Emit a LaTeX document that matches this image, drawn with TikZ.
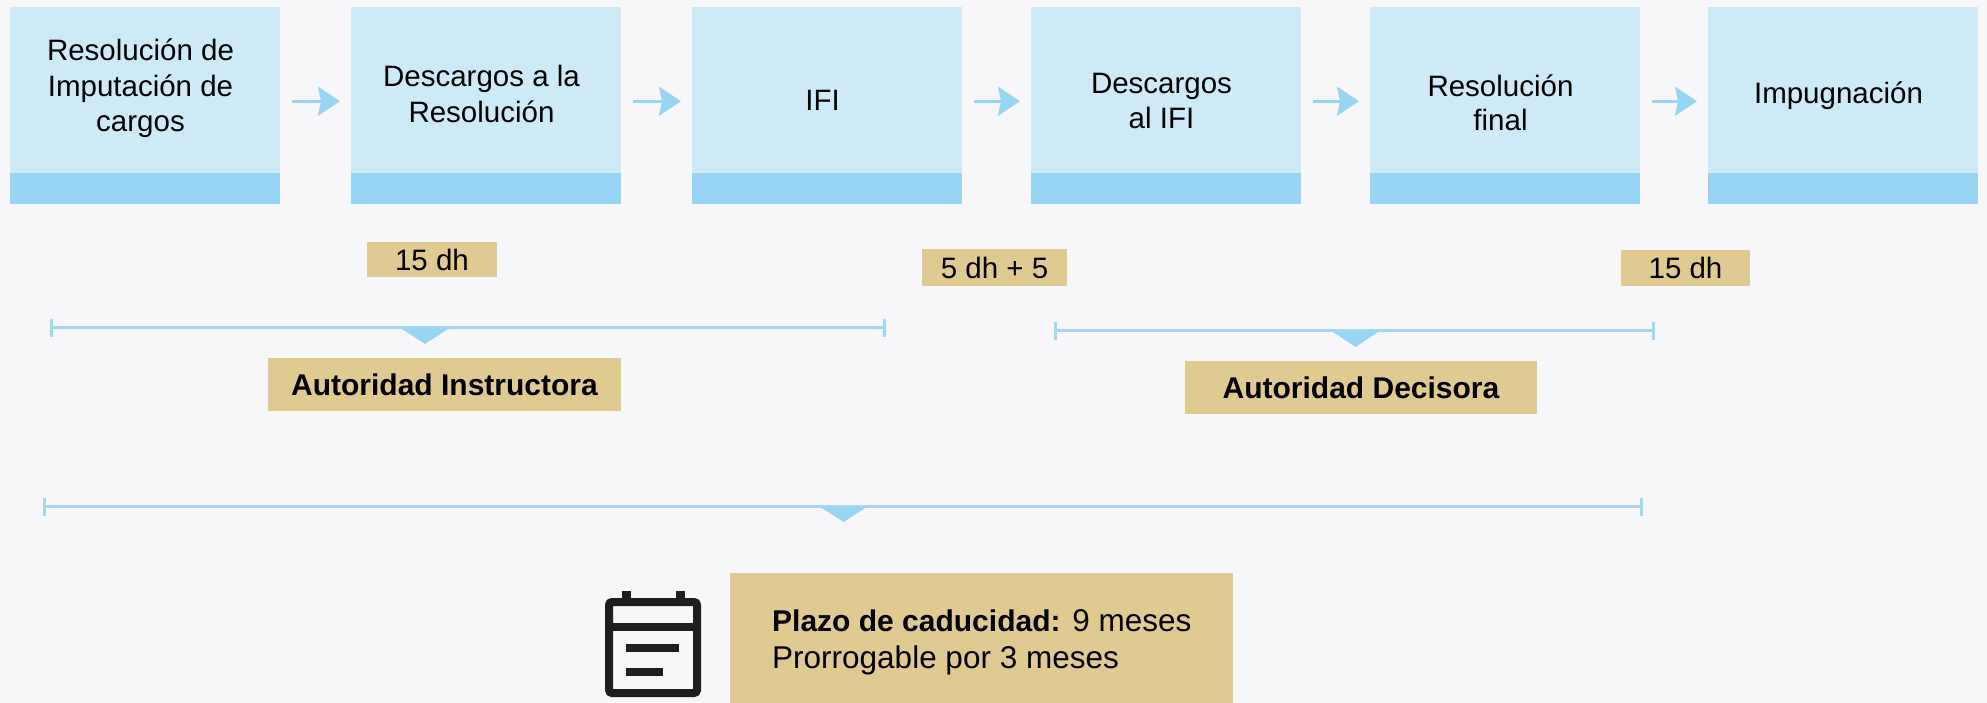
\documentclass[tikz,border=0pt]{standalone}
\usepackage{fontspec}
\setmainfont{Liberation Sans}
\usetikzlibrary{arrows.meta}
\definecolor{bg}{HTML}{F7F7F9}
\definecolor{boxlight}{HTML}{CDEAF6}
\definecolor{boxstrip}{HTML}{98D5F4}
\definecolor{tanfill}{HTML}{DFCA91}
\definecolor{lineblue}{HTML}{A2D8F4}
\definecolor{iconcol}{HTML}{1E1E1E}
\begin{document}
\begin{tikzpicture}[x=1pt,y=-1pt,
  stepbox/.style={fill=boxlight, draw=none, inner sep=0pt, minimum width=270pt, minimum height=197pt, anchor=north west},
  boxtxt/.style={anchor=base, inner sep=0pt, font=\fontsize{29.5}{35.5}\selectfont},
  flowarrow/.style={draw=boxstrip, line width=3pt, -{Stealth[length=22pt,width=29pt,inset=3pt]}},
  durbox/.style={fill=tanfill, draw=none, inner sep=0pt, font=\fontsize{29.5}{35}\selectfont},
  authbox/.style={fill=tanfill, draw=none, inner sep=0pt, minimum width=353pt, minimum height=53pt, font=\fontsize{30}{36}\selectfont\bfseries},
  bracket/.style={draw=lineblue, line width=3pt},
  pointer/.style={fill=boxstrip, draw=none},
  cadtxt/.style={anchor=base west, inner sep=0pt, font=\fontsize{31.5}{37}\selectfont},
  iconline/.style={draw=iconcol, line width=8pt},
  iconfill/.style={fill=iconcol, draw=none}
]
\fill[bg] (0,0) rectangle (1987,703);
\useasboundingbox (0,0) rectangle (1987,703);

% --- step boxes
\node[stepbox] (b1) at (10,7) {};
\node[stepbox] (b2) at (351,7) {};
\node[stepbox] (b3) at (692,7) {};
\node[stepbox] (b4) at (1031,7) {};
\node[stepbox] (b5) at (1370,7) {};
\node[stepbox] (b6) at (1708,7) {};
\foreach \b in {b1,b2,b3,b4,b5,b6}{
  \fill[boxstrip] ([yshift=31pt]\b.south west) rectangle (\b.south east);
}

% --- step texts
\node[boxtxt] (t1a) at (140.5,61) {Resolución de};
\node[boxtxt] (t1b) at (140.5,96.5) {Imputación de};
\node[boxtxt] (t1c) at (140.5,132) {cargos};
\node[boxtxt] (t2a) at (481.5,87) {Descargos a la};
\node[boxtxt] (t2b) at (481.5,123) {Resolución};
\node[boxtxt] (t3a) at (822.5,111) {IFI};
\node[boxtxt] (t4a) at (1161.5,94) {Descargos};
\node[boxtxt] (t4b) at (1161.5,129) {al IFI};
\node[boxtxt] (t5a) at (1500.5,97) {Resolución};
\node[boxtxt] (t5b) at (1500.5,131) {final};
\node[boxtxt] (t6a) at (1838.5,104) {Impugnación};

% --- arrows
\draw[flowarrow] ([xshift=12pt,yshift=4.5pt]b1.east) -- ([xshift=-11pt,yshift=4.5pt]b2.west);
\draw[flowarrow] ([xshift=12pt,yshift=4.5pt]b2.east) -- ([xshift=-11pt,yshift=4.5pt]b3.west);
\draw[flowarrow] ([xshift=12pt,yshift=4.5pt]b3.east) -- ([xshift=-11pt,yshift=4.5pt]b4.west);
\draw[flowarrow] ([xshift=12pt,yshift=4.5pt]b4.east) -- ([xshift=-11pt,yshift=4.5pt]b5.west);
\draw[flowarrow] ([xshift=12pt,yshift=4.5pt]b5.east) -- ([xshift=-11pt,yshift=4.5pt]b6.west);

% --- durations
\node[durbox, minimum width=130pt, minimum height=35pt] (d1) at (432,259.5) {15 dh};
\node[durbox, minimum width=145pt, minimum height=37pt] (d2) at (994.5,267.5) {5 dh + 5};
\node[durbox, minimum width=129pt, minimum height=36pt] (d3) at (1685.5,268) {15 dh};

% --- bracket 1 (Autoridad Instructora)
\coordinate (l1a) at (51,328);
\coordinate (l1b) at (884,328);
\draw[bracket] (l1a) -- (l1b);
\draw[bracket] ([yshift=9pt]l1a) -- ([yshift=-9pt]l1a);
\draw[bracket] ([yshift=9pt]l1b) -- ([yshift=-9pt]l1b);
\fill[pointer] (402,329) -- (448,329) -- (425,344) -- cycle;
\node[authbox] (a1) at (444.5,384.5) {Autoridad Instructora};

% --- bracket 2 (Autoridad Decisora)
\coordinate (l2a) at (1055,331);
\coordinate (l2b) at (1653,331);
\draw[bracket] (l2a) -- (l2b);
\draw[bracket] ([yshift=9pt]l2a) -- ([yshift=-9pt]l2a);
\draw[bracket] ([yshift=9pt]l2b) -- ([yshift=-9pt]l2b);
\fill[pointer] (1333,332) -- (1378,332) -- (1355.5,347) -- cycle;
\node[authbox, minimum width=352pt] (a2) at (1361,387.5) {Autoridad Decisora};

% --- bracket 3 (plazo total)
\coordinate (l3a) at (44.5,506.5);
\coordinate (l3b) at (1641.5,506.5);
\draw[bracket] (l3a) -- (l3b);
\draw[bracket] ([yshift=9pt]l3a) -- ([yshift=-9pt]l3a);
\draw[bracket] ([yshift=9pt]l3b) -- ([yshift=-9pt]l3b);
\fill[pointer] (821,507.5) -- (866,507.5) -- (843.5,522) -- cycle;

% --- caducidad box
\node[fill=tanfill, draw=none, inner sep=0pt, anchor=north west, minimum width=503pt, minimum height=130pt] (cad) at (730,573) {};
\node[cadtxt] (cad1) at (772,631) {{\fontsize{30}{37}\selectfont\bfseries Plazo de caducidad:} 9 meses};
\node[cadtxt] (cad2) at (772,668) {Prorrogable por 3 meses};

% --- calendar icon
\draw[iconline, rounded corners=3pt] (609,602) rectangle (697,693);
\fill[iconfill] (622,591) rectangle (631,602);
\fill[iconfill] (676,591) rectangle (685,602);
\fill[iconfill] (609,623) rectangle (697,631);
\fill[iconfill] (626,644) rectangle (679,652);
\fill[iconfill] (626,668) rectangle (663,676);
\end{tikzpicture}
\end{document}
